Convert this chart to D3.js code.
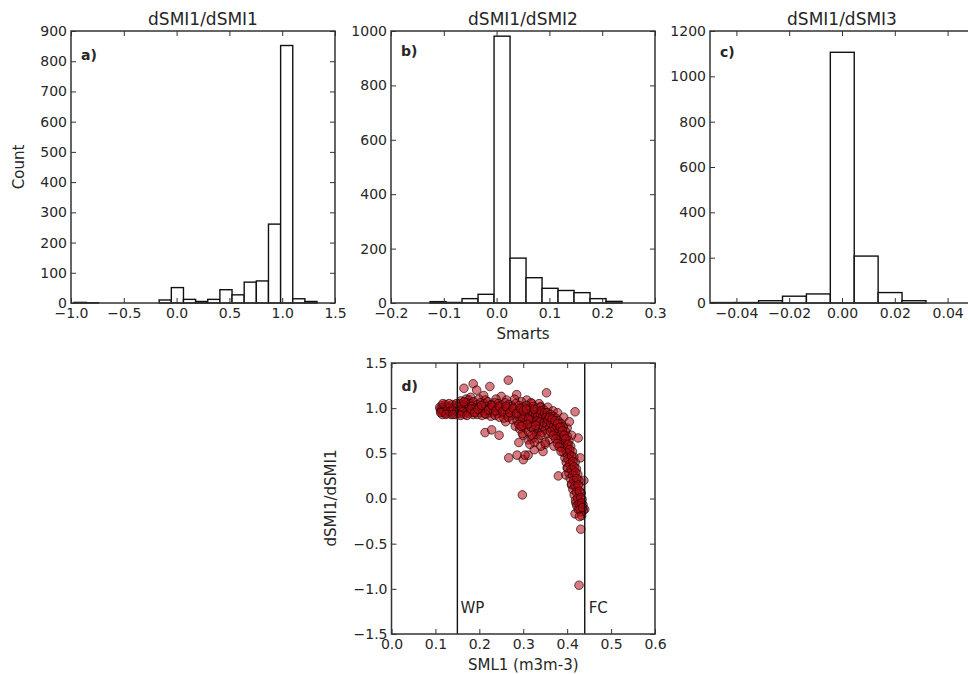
<!DOCTYPE html>
<html>
<head>
<meta charset="utf-8">
<script src="https://cdn.jsdelivr.net/npm/d3@7"></script>
<style>
  html, body { margin: 0; padding: 0; background: #fff; }
  svg { display: block; font-family: "DejaVu Sans", sans-serif; }
</style>
</head>
<body>
<svg id="fig" width="968" height="674"></svg>
<script>
// ---- histogram data: counts per bin and the [min, max] range the bins span ----
const histTitles = ["dSMI1/dSMI1", "dSMI1/dSMI2", "dSMI1/dSMI3"];
const histLetters = ["a)", "b)", "c)"];

const countsA = [2, 1, 0, 0, 0, 0, 0, 10, 51, 12, 5, 12, 44, 27, 69, 73, 261, 852, 14, 5];
const rangeA = [-0.97, 1.33];
const countsB = [5, 2, 16, 32, 981, 165, 93, 54, 46, 38, 16, 6];
const rangeB = [-0.126, 0.2376];
const countsC = [2, 2, 10, 30, 40, 1106, 207, 46, 10];
const rangeC = [-0.0497, 0.0318];

// axis limits and tick values
const xDomainA = [-1.0, 1.5], yDomainA = [0, 900];
const xTicksA = [-1.0, -0.5, 0.0, 0.5, 1.0, 1.5];
const yTicksA = [0, 100, 200, 300, 400, 500, 600, 700, 800, 900];
const xDomainB = [-0.2, 0.3], yDomainB = [0, 1000];
const xTicksB = [-0.2, -0.1, 0.0, 0.1, 0.2, 0.3];
const yTicksB = [0, 200, 400, 600, 800, 1000];
const xDomainC = [-0.05, 0.05], yDomainC = [0, 1200];
const xTicksC = [-0.04, -0.02, 0.0, 0.02, 0.04];
const yTicksC = [0, 200, 400, 600, 800, 1000, 1200];

// ---- scatter data: soil moisture (SML1) vs dSMI1/dSMI1 ----
const xDomainD = [0.0, 0.6], yDomainD = [-1.5, 1.5];
const xTicksD = [0.0, 0.1, 0.2, 0.3, 0.4, 0.5, 0.6];
const yTicksD = [-1.5, -1.0, -0.5, 0.0, 0.5, 1.0, 1.5];
const wiltingPoint = 0.15;
const fieldCapacity = 0.44;

const scatterPoints = [
  // isolated points
  [0.165,1.22],[0.186,1.27],[0.194,1.20],[0.224,1.24],[0.266,1.31],[0.285,1.15],[0.308,1.09],
  [0.353,1.17],[0.418,0.96],[0.213,0.73],[0.228,0.76],[0.245,0.70],[0.267,0.45],[0.286,0.48],
  [0.300,0.43],[0.311,0.48],[0.298,0.04],[0.380,0.25],[0.397,0.26],[0.431,-0.34],[0.427,-0.96],
  [0.418,-0.17],[0.325,0.54],[0.311,0.65],[0.385,0.67],[0.425,0.67],[0.345,0.52],[0.304,0.48],
  [0.180,1.12],[0.210,1.14],[0.170,1.10],[0.250,1.13],[0.280,1.10],[0.320,1.05],[0.340,1.02],
  [0.260,0.85],[0.290,0.62],[0.300,0.70],[0.320,0.66],[0.330,0.74],[0.360,0.65],[0.370,0.58],
  [0.350,0.60],[0.390,0.80],[0.400,0.78],[0.410,0.70],[0.430,0.45],[0.438,0.20],[0.400,0.34],
  [0.410,0.15],[0.440,-0.12],[0.420,-0.05],
  // upper edge of the main band
  [0.158,1.08],[0.176,1.09],[0.199,1.10],[0.214,1.09],[0.238,1.10],[0.262,1.09],[0.296,1.07],
  [0.318,1.06],[0.336,1.05],[0.356,1.01],[0.368,0.97],[0.378,0.95],[0.392,0.90],[0.405,0.85],
  // main band, plateau near 1
  [0.115,1.03],[0.123,1.04],[0.131,1.02],[0.139,1.04],[0.147,1.03],[0.155,1.05],[0.163,1.04],
  [0.171,1.06],[0.179,1.05],[0.187,1.07],[0.195,1.04],[0.203,1.06],[0.211,1.05],[0.219,1.07],
  [0.227,1.04],[0.235,1.06],[0.243,1.05],[0.251,1.03],[0.259,1.06],[0.267,1.04],[0.275,1.02],
  [0.283,1.05],[0.291,1.03],[0.299,1.01],[0.307,1.03],[0.315,1.00],[0.323,1.02],[0.331,0.99],
  [0.339,1.01],[0.347,0.98],
  [0.111,0.99],[0.119,1.00],[0.127,0.98],[0.135,1.00],[0.143,0.99],[0.151,1.01],[0.159,0.99],
  [0.167,1.01],[0.175,1.00],[0.183,1.02],[0.191,1.00],[0.199,1.01],[0.207,0.99],[0.215,1.02],
  [0.223,1.00],[0.231,1.01],[0.239,0.99],[0.247,1.00],[0.255,0.98],[0.263,1.00],[0.271,0.97],
  [0.279,0.99],[0.287,0.96],[0.295,0.98],[0.303,0.95],[0.311,0.97],[0.319,0.95],[0.327,0.96],
  [0.335,0.94],[0.343,0.95],[0.351,0.92],
  [0.113,0.96],[0.121,0.95],[0.129,0.96],[0.137,0.95],[0.145,0.96],[0.153,0.95],[0.161,0.97],
  [0.169,0.96],[0.177,0.97],[0.185,0.96],[0.193,0.97],[0.201,0.95],[0.209,0.96],[0.217,0.97],
  [0.225,0.95],[0.233,0.96],[0.241,0.94],[0.249,0.95],[0.257,0.93],[0.265,0.94],[0.273,0.92],
  [0.281,0.93],[0.289,0.91],[0.297,0.92],[0.305,0.90],[0.313,0.91],[0.321,0.89],[0.329,0.90],
  [0.337,0.88],[0.345,0.89],[0.353,0.86],
  [0.116,0.93],[0.126,0.94],[0.136,0.93],[0.146,0.93],[0.156,0.94],[0.166,0.93],[0.176,0.94],
  [0.186,0.93],[0.196,0.93],[0.206,0.92],[0.216,0.93],[0.226,0.91],[0.236,0.92],[0.246,0.90],
  [0.256,0.89],[0.266,0.90],[0.276,0.87],[0.286,0.86],[0.296,0.85],[0.306,0.84],[0.316,0.83],
  [0.326,0.84],[0.336,0.82],[0.346,0.83],
  [0.110,1.01],[0.114,0.98],[0.118,0.97],[0.121,1.01],[0.125,0.99],[0.128,1.00],[0.133,0.97],
  [0.138,0.98],[0.141,1.00],[0.149,0.97],[0.154,0.98],[0.158,1.02],[0.162,0.96],
  [0.302,0.93],[0.309,0.94],[0.314,0.92],[0.322,0.93],[0.328,0.92],[0.333,0.91],[0.339,0.93],
  [0.344,0.91],[0.298,0.89],[0.317,0.87],[0.331,0.86],[0.338,0.85],
  [0.112,0.95],[0.117,1.05],[0.124,0.93],[0.131,1.05],[0.140,0.93],[0.148,1.05],[0.157,0.92],
  [0.165,1.07],[0.172,0.92],[0.181,0.99],[0.189,0.95],[0.197,0.99],[0.205,1.03],[0.213,0.94],
  [0.221,0.98],[0.229,1.03],[0.237,0.97],[0.245,1.02],[0.253,0.96],[0.261,1.02],[0.269,0.95],
  [0.277,1.00],[0.285,0.94],[0.293,1.00],[0.300,0.97],[0.307,0.99],[0.312,0.88],[0.325,0.99],
  [0.341,0.97],[0.349,0.95],
  // lower spread of the band around 0.3
  [0.282,0.80],[0.292,0.77],[0.298,0.72],[0.305,0.78],[0.312,0.74],[0.318,0.79],[0.324,0.76],
  [0.330,0.71],[0.336,0.77],[0.342,0.73],[0.290,0.82],[0.300,0.81],[0.320,0.70],[0.334,0.66],
  [0.326,0.62],[0.315,0.60],[0.340,0.58],[0.350,0.62],
  [0.345,0.80],[0.350,0.76],[0.355,0.72],[0.340,0.70],[0.328,0.81],[0.309,0.82],[0.295,0.80],
  // steep drop towards field capacity
  [0.355,0.95],[0.362,0.93],[0.368,0.91],[0.374,0.89],[0.380,0.86],[0.386,0.83],[0.391,0.79],
  [0.396,0.74],[0.400,0.69],[0.404,0.64],[0.408,0.58],[0.412,0.52],[0.415,0.46],[0.418,0.40],
  [0.421,0.33],[0.424,0.27],[0.427,0.20],[0.430,0.13],[0.432,0.06],[0.434,-0.01],[0.436,-0.07],
  [0.437,-0.13],
  [0.352,0.90],[0.358,0.88],[0.364,0.86],[0.370,0.84],[0.376,0.81],[0.381,0.78],[0.386,0.74],
  [0.390,0.70],[0.394,0.65],[0.398,0.60],[0.401,0.55],[0.405,0.49],[0.408,0.43],[0.411,0.37],
  [0.414,0.31],[0.417,0.25],[0.420,0.18],[0.423,0.11],[0.426,0.04],[0.428,-0.03],[0.430,-0.09],
  [0.432,-0.15],
  [0.348,0.84],[0.354,0.82],[0.360,0.79],[0.366,0.76],[0.371,0.73],[0.376,0.70],[0.380,0.66],
  [0.384,0.61],[0.388,0.56],[0.392,0.51],[0.395,0.45],[0.398,0.40],[0.401,0.34],[0.404,0.28],
  [0.407,0.22],[0.410,0.16],[0.413,0.10],[0.416,0.04],[0.419,-0.02],[0.422,-0.08],[0.425,-0.12],
  [0.356,0.87],[0.363,0.83],[0.369,0.80],[0.373,0.77],[0.379,0.73],[0.383,0.69],[0.387,0.65],
  [0.391,0.60],[0.396,0.55],[0.399,0.50],[0.402,0.44],[0.406,0.38],[0.409,0.32],[0.412,0.26],
  [0.415,0.20],[0.418,0.14],[0.421,0.07],[0.424,0.00],[0.427,-0.06],[0.429,-0.12],[0.433,-0.19],
  [0.428,-0.20],
  [0.360,0.90],[0.366,0.88],[0.372,0.86],[0.378,0.83],[0.384,0.79],[0.389,0.75],[0.393,0.70],
  [0.397,0.66],[0.402,0.60],[0.406,0.54],[0.410,0.47],[0.413,0.41],[0.416,0.35],[0.419,0.29],
  [0.422,0.22],[0.425,0.15],[0.428,0.08],[0.431,0.01],[0.433,-0.05],[0.435,-0.10],
  [0.362,0.74],[0.368,0.70],[0.374,0.66],[0.378,0.61],[0.382,0.57],[0.386,0.52]
];

// ---- drawing ----
const svg = d3.select("#fig");
const textColor = "#262626";
const frameColor = "#333";

function panelAxes(g, box, x, y, xTicks, yTicks, xFmt, yFmt) {
  const w = box.x1 - box.x0, h = box.y1 - box.y0;
  const style = sel => {
    sel.select(".domain").remove();
    sel.selectAll(".tick line").attr("stroke", frameColor).attr("stroke-width", 1);
    sel.selectAll(".tick text").attr("font-size", 14).attr("fill", textColor)
      .attr("font-family", "DejaVu Sans, sans-serif");
  };
  g.append("g").attr("transform", `translate(0,${box.y1})`)
    .call(d3.axisBottom(x).tickValues(xTicks).tickFormat(d3.format(xFmt)).tickSize(-5).tickSizeOuter(0).tickPadding(5))
    .call(style);
  g.append("g").attr("transform", `translate(0,${box.y0})`)
    .call(d3.axisTop(x).tickValues(xTicks).tickFormat("").tickSize(-5).tickSizeOuter(0))
    .call(style);
  g.append("g").attr("transform", `translate(${box.x0},0)`)
    .call(d3.axisLeft(y).tickValues(yTicks).tickFormat(d3.format(yFmt)).tickSize(-5).tickSizeOuter(0).tickPadding(4))
    .call(style);
  g.append("g").attr("transform", `translate(${box.x1},0)`)
    .call(d3.axisRight(y).tickValues(yTicks).tickFormat("").tickSize(-5).tickSizeOuter(0))
    .call(style);
  g.append("rect")
    .attr("x", box.x0).attr("y", box.y0).attr("width", w).attr("height", h)
    .attr("fill", "none").attr("stroke", frameColor).attr("stroke-width", 1.5);
}

function histogram(box, counts, range, xDomain, yDomain, xTicks, yTicks, xFmt, title, letter, letterY) {
  const g = svg.append("g");
  const x = d3.scaleLinear().domain(xDomain).range([box.x0, box.x1]);
  const y = d3.scaleLinear().domain(yDomain).range([box.y1, box.y0]);
  const n = counts.length;
  const step = (range[1] - range[0]) / n;
  const bins = counts.map((c, i) => ({ lo: range[0] + i * step, hi: range[0] + (i + 1) * step, c }));
  g.append("g").selectAll("rect").data(bins).join("rect")
    .attr("x", d => x(d.lo))
    .attr("width", d => x(d.hi) - x(d.lo))
    .attr("y", d => y(d.c))
    .attr("height", d => y(0) - y(d.c))
    .attr("fill", "#fff")
    .attr("stroke", "#111")
    .attr("stroke-width", 1.4);
  panelAxes(g, box, x, y, xTicks, yTicks, xFmt, "d");
  g.append("text").attr("x", (box.x0 + box.x1) / 2).attr("y", 25)
    .attr("text-anchor", "middle").attr("font-size", 17).attr("fill", textColor).text(title);
  g.append("text").attr("x", box.x0 + 10).attr("y", letterY)
    .attr("font-size", 14).attr("font-weight", "bold").attr("fill", textColor).text(letter);
  return g;
}

const boxA = { x0: 71, x1: 335, y0: 31, y1: 303 };
const boxB = { x0: 391, x1: 655, y0: 31, y1: 303 };
const boxC = { x0: 710, x1: 974, y0: 31, y1: 303 };
const boxD = { x0: 391.5, x1: 655, y0: 363, y1: 634 };

histogram(boxA, countsA, rangeA, xDomainA, yDomainA, xTicksA, yTicksA, ".1f", histTitles[0], histLetters[0], 60);
histogram(boxB, countsB, rangeB, xDomainB, yDomainB, xTicksB, yTicksB, ".1f", histTitles[1], histLetters[1], 56);
histogram(boxC, countsC, rangeC, xDomainC, yDomainC, xTicksC, yTicksC, ".2f", histTitles[2], histLetters[2], 57);

svg.append("text").attr("transform", "translate(24,167) rotate(-90)")
  .attr("text-anchor", "middle").attr("font-size", 15).attr("fill", textColor).text("Count");
svg.append("text").attr("x", (boxB.x0 + boxB.x1) / 2).attr("y", 339)
  .attr("text-anchor", "middle").attr("font-size", 15).attr("fill", textColor).text("Smarts");

// scatter panel
const gD = svg.append("g");
const xD = d3.scaleLinear().domain(xDomainD).range([boxD.x0, boxD.x1]);
const yD = d3.scaleLinear().domain(yDomainD).range([boxD.y1, boxD.y0]);

gD.append("g").selectAll("circle").data(scatterPoints).join("circle")
  .attr("cx", d => xD(d[0]))
  .attr("cy", d => yD(d[1]))
  .attr("r", 4.3)
  .attr("fill", "#b80c16")
  .attr("fill-opacity", 0.55)
  .attr("stroke", "#140000")
  .attr("stroke-opacity", 0.65)
  .attr("stroke-width", 1);

[wiltingPoint, fieldCapacity].forEach(v => {
  gD.append("line")
    .attr("x1", xD(v)).attr("x2", xD(v))
    .attr("y1", boxD.y0).attr("y2", boxD.y1)
    .attr("stroke", "#111").attr("stroke-width", 1.4);
});
gD.append("text").attr("x", xD(wiltingPoint) + 3).attr("y", 613)
  .attr("font-size", 15).attr("fill", textColor).text("WP");
gD.append("text").attr("x", xD(fieldCapacity) + 4).attr("y", 613)
  .attr("font-size", 15).attr("fill", textColor).text("FC");

panelAxes(gD, boxD, xD, yD, xTicksD, yTicksD, ".1f", ".1f");
gD.append("text").attr("x", boxD.x0 + 10).attr("y", 391)
  .attr("font-size", 14).attr("font-weight", "bold").attr("fill", textColor).text("d)");
svg.append("text").attr("transform", "translate(336,498) rotate(-90)")
  .attr("text-anchor", "middle").attr("font-size", 15).attr("fill", textColor).text("dSMI1/dSMI1");
svg.append("text").attr("x", (boxD.x0 + boxD.x1) / 2).attr("y", 670)
  .attr("text-anchor", "middle").attr("font-size", 15).attr("fill", textColor).text("SML1 (m3m-3)");
</script>
</body>
</html>
